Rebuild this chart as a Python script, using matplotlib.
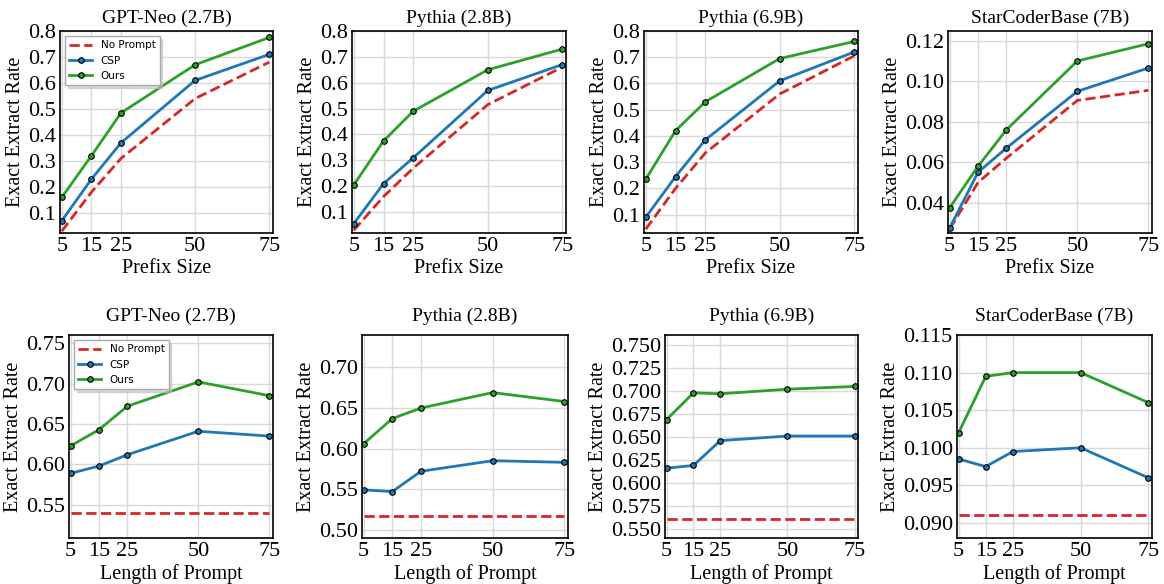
import numpy as np
import matplotlib
matplotlib.use('Agg')
import matplotlib.pyplot as plt

plt.rc('font', family='Liberation Serif')

X = [5, 15, 25, 50, 75]
titles = ['GPT-Neo (2.7B)', 'Pythia (2.8B)', 'Pythia (6.9B)', 'StarCoderBase (7B)']

# top row: prefix size
prefix_noprompt = [
    [0.03, 0.18, 0.31, 0.54, 0.68],
    [0.03, 0.16, 0.27, 0.515, 0.66],
    [0.045, 0.20, 0.335, 0.56, 0.705],
    [0.027, 0.050, 0.062, 0.0905, 0.0955],
]
prefix_csp = [
    [0.07, 0.23, 0.37, 0.61, 0.71],
    [0.055, 0.21, 0.31, 0.57, 0.67],
    [0.09, 0.245, 0.385, 0.61, 0.72],
    [0.0275, 0.055, 0.067, 0.095, 0.1065],
]
prefix_ours = [
    [0.16, 0.32, 0.485, 0.67, 0.775],
    [0.205, 0.375, 0.49, 0.65, 0.73],
    [0.235, 0.42, 0.53, 0.695, 0.76],
    [0.0375, 0.058, 0.076, 0.110, 0.1185],
]

# bottom row: length of prompt
prompt_noprompt = [0.54, 0.517, 0.561, 0.091]
prompt_csp = [
    [0.589, 0.598, 0.612, 0.641, 0.635],
    [0.549, 0.547, 0.572, 0.585, 0.583],
    [0.616, 0.619, 0.646, 0.651, 0.651],
    [0.0985, 0.0975, 0.0995, 0.100, 0.096],
]
prompt_ours = [
    [0.623, 0.643, 0.672, 0.702, 0.685],
    [0.606, 0.637, 0.650, 0.669, 0.658],
    [0.669, 0.698, 0.697, 0.702, 0.705],
    [0.102, 0.1095, 0.110, 0.110, 0.106],
]

top_ylim = [(0.023, 0.8), (0.019, 0.8), (0.030, 0.8), (0.025, 0.1248)]
top_yticks = [np.arange(0.1, 0.81, 0.1)] * 3 + [np.arange(0.04, 0.121, 0.02)]
bot_ylim = [(0.509, 0.760), (0.4897, 0.740), (0.540, 0.761), (0.088, 0.115)]
bot_yticks = [np.arange(0.55, 0.751, 0.05), np.arange(0.50, 0.701, 0.05),
              np.arange(0.55, 0.751, 0.025), np.arange(0.090, 0.1151, 0.005)]
bot_fmt = ['%.2f', '%.2f', '%.3f', '%.3f']
top_fmt = ['%.1f', '%.1f', '%.1f', '%.2f']

W, H = 1164, 584
top_cols = [(60, 273), (352, 566), (644, 858), (948, 1152)]
bot_cols = [(69, 273), (362, 568), (665, 858), (957, 1152)]

fig = plt.figure(figsize=(W / 100, H / 100), dpi=100)

red, blue, green = '#d62728', '#1f77b4', '#2ca02c'
mTick = 16
mLabel = 14.5
mTitle = 14


def style(ax):
    ax.grid(True, color='#d9d9d9', linewidth=1.0)
    ax.set_axisbelow(True)
    for s in ax.spines.values():
        s.set_color('black')
        s.set_linewidth(1.2)
    ax.tick_params(length=0, pad=3, labelsize=mTick)
    ax.set_xticks(X)
    ax.set_xlim(4.4, 76.3)


def draw(ax, nop, csp, ours):
    ax.plot(X, nop, linestyle='--', color=red, linewidth=2, label='No Prompt')
    ax.plot(X, csp, color=blue, linewidth=2, marker='o', markersize=4,
            markeredgecolor='black', markeredgewidth=0.8, label='CSP')
    ax.plot(X, ours, color=green, linewidth=2, marker='o', markersize=4,
            markeredgecolor='black', markeredgewidth=0.8, label='Ours')


def legend(ax):
    ax.legend(loc='upper left', prop={'family': 'DejaVu Sans', 'size': 7.5},
              fancybox=False, edgecolor='#aaaaaa', framealpha=1,
              shadow={'color': '0.75', 'alpha': 0.6}, handlelength=2.2)


for i in range(4):
    l, r = top_cols[i]
    ax = fig.add_axes([l / W, 1 - 233 / H, (r - l) / W, 202 / H])
    style(ax)
    draw(ax, prefix_noprompt[i], prefix_csp[i], prefix_ours[i])
    ax.set_ylim(*top_ylim[i])
    ax.set_yticks(top_yticks[i])
    ax.yaxis.set_major_formatter(matplotlib.ticker.FormatStrFormatter(top_fmt[i]))
    ax.set_title(titles[i], fontsize=mTitle, pad=6)
    ax.set_xlabel('Prefix Size', fontsize=mLabel, labelpad=2)
    ax.set_ylabel('Exact Extract Rate', fontsize=mLabel, labelpad=2)
    if i == 0:
        legend(ax)

for i in range(4):
    l, r = bot_cols[i]
    ax = fig.add_axes([l / W, 1 - 538 / H, (r - l) / W, 203 / H])
    style(ax)
    draw(ax, [prompt_noprompt[i]] * len(X), prompt_csp[i], prompt_ours[i])
    ax.set_ylim(*bot_ylim[i])
    ax.set_yticks(bot_yticks[i])
    ax.yaxis.set_major_formatter(matplotlib.ticker.FormatStrFormatter(bot_fmt[i]))
    ax.set_title(titles[i], fontsize=mTitle, pad=10)
    ax.set_xlabel('Length of Prompt', fontsize=mLabel, labelpad=2)
    ax.set_ylabel('Exact Extract Rate', fontsize=mLabel, labelpad=2)
    if i == 0:
        legend(ax)

plt.savefig('out.png', dpi=100)
